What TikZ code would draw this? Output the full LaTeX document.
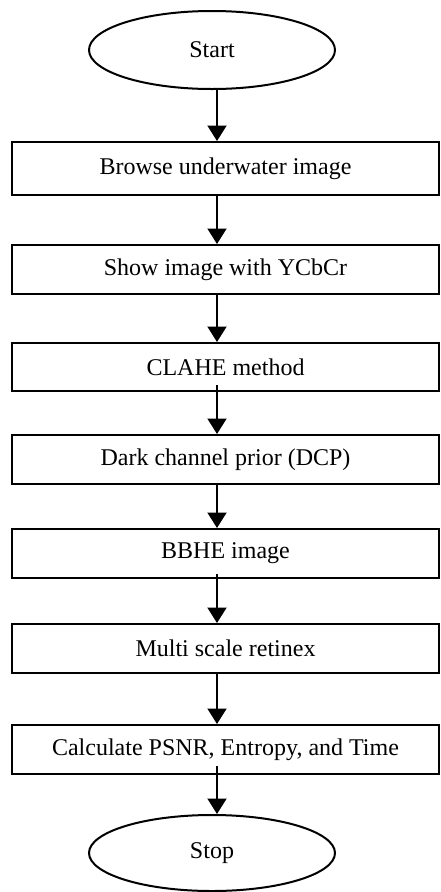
\documentclass[tikz,border=0pt]{standalone}
\usepackage{fontspec}
\setmainfont{Liberation Serif}
\usetikzlibrary{arrows.meta,shapes.geometric}
\begin{document}
\begin{tikzpicture}[x=1pt,y=-1pt,
  every node/.style={font=\fontsize{24}{28}\selectfont, inner sep=0pt},
  stepbox/.style={draw, line width=2pt, minimum width=427pt, anchor=center},
  term/.style={draw, ellipse, line width=2pt, minimum width=246pt, minimum height=78pt},
  arr/.style={line width=2pt, -{Triangle[length=15.5pt,width=19pt]}}]
\useasboundingbox (0,0) rectangle (441,892);
\node[term] (start) at (212,50) {Start};
\node[stepbox, minimum height=53pt] (b1) at (225.5,168.5) {Browse underwater image};
\node[stepbox, minimum height=49pt] (b2) at (225.5,269.5) {Show image with YCbCr};
\node[stepbox, minimum height=48pt] (b3) at (225.5,367) {CLAHE method};
\node[stepbox, minimum height=49pt] (b4) at (225.5,459.5) {Dark channel prior (DCP)};
\node[stepbox, minimum height=49pt] (b5) at (225.5,553.5) {BBHE image};
\node[stepbox, minimum height=49pt] (b6) at (225.5,648.5) {Multi scale retinex};
\node[stepbox, minimum height=49pt] (b7) at (225.5,749.5) {Calculate PSNR, Entropy, and Time};
\node[term, minimum height=76pt] (stop) at (212,853) {Stop};
\coordinate (ax) at (217,0);
\draw[arr] (start.south -| ax) -- (b1.north -| ax);
\draw[arr] (b1.south -| ax) -- (b2.north -| ax);
\draw[arr] (b2.south -| ax) -- (b3.north -| ax);
\draw[arr] ([yshift=7pt]b3.south -| ax) -- (b4.north -| ax);
\draw[arr] (b4.south -| ax) -- (b5.north -| ax);
\draw[arr] ([yshift=5pt]b5.south -| ax) -- (b6.north -| ax);
\draw[arr] (b6.south -| ax) -- (b7.north -| ax);
\draw[arr] ([yshift=9pt]b7.south -| ax) -- (stop.north -| ax);
\end{tikzpicture}
\end{document}
